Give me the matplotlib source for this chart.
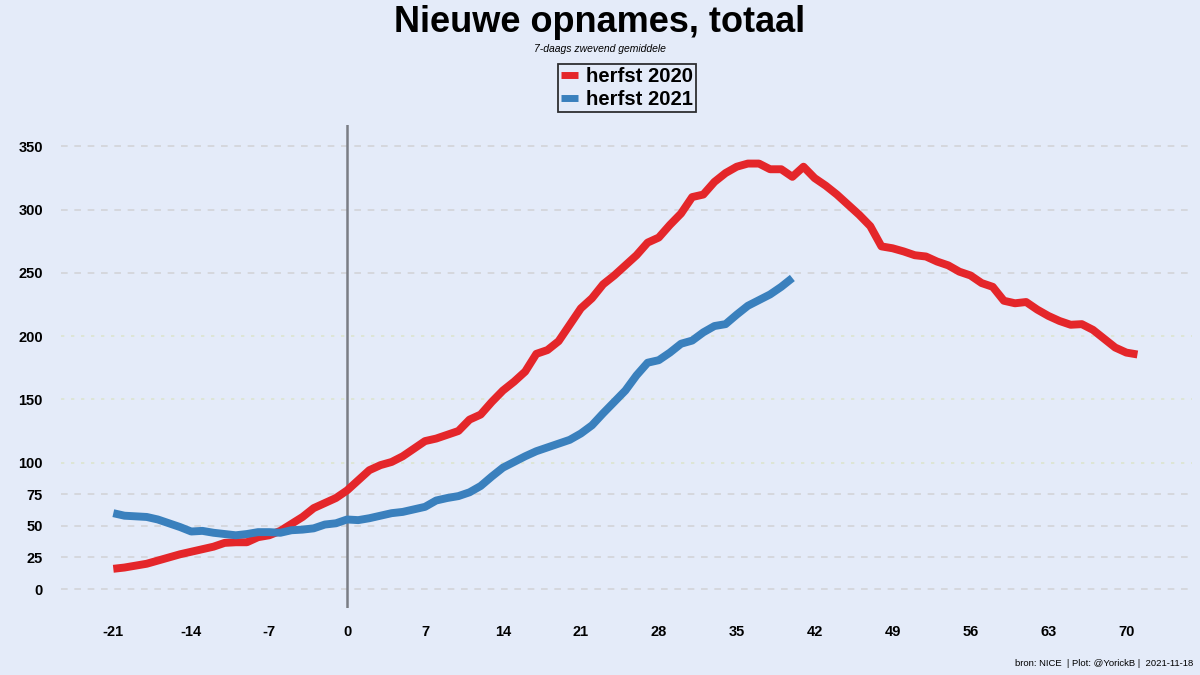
import matplotlib
matplotlib.use("Agg")
import matplotlib.pyplot as plt
import numpy as np

plt.rcParams['font.family'] = ['Liberation Sans', 'DejaVu Sans']

# Data
days_2020 = list(range(-21, 72))
herfst_2020 = [16, 17, 18.5, 20, 22.5, 25, 27.5, 29.5, 31.5, 33.5,
               36.5, 37, 37, 41, 42.5, 46, 51.5, 57, 64, 68,
               72, 78, 86, 94, 98, 100.5, 105, 111, 117, 119,
               122, 125, 134, 138, 148, 157, 164, 172, 186, 189,
               196, 209, 222, 230, 241, 248, 256, 264, 274, 278,
               288, 297, 310, 312, 322, 329, 334, 336.5, 336.5, 332,
               332, 326, 334, 325, 319, 312, 304, 296, 287, 271,
               269.5, 267, 264, 263, 259, 256, 251, 248, 242, 239,
               228, 226, 227, 221, 216, 212, 209, 209.5, 205, 198,
               191, 187, 185.5]
days_2021 = list(range(-21, 41))
herfst_2021 = [60, 58, 57.5, 57, 55, 52, 49, 45.5, 46, 44.5,
               43.5, 42.5, 43.5, 45, 45, 44.5, 46.5, 47, 48, 51,
               52, 55, 54.5, 56, 58, 60, 61, 63, 65, 70,
               72, 73.5, 76.5, 81.5, 89, 96, 100.5, 105, 109, 112,
               115, 118, 123, 129.5, 139, 148, 157, 169, 179, 181,
               187, 194, 196.5, 203, 208, 209.5, 217, 224, 228.5, 233,
               239, 246]
xticks = [-21, -14, -7, 0, 7, 14, 21, 28, 35, 42, 49, 56, 63, 70]
yticks = [0, 25, 50, 75, 100, 150, 200, 250, 300, 350]
dotted_grid = [100, 150, 200]

BG = '#E4EBF9'
RED = '#E4262A'
BLUE = '#3A80BD'

fig = plt.figure(figsize=(12, 6.75), dpi=100, facecolor=BG)
ax = fig.add_axes([61/1200, 1-608/675, (1192-61)/1200, (608-125)/675])
ax.set_facecolor(BG)
for s in ax.spines.values():
    s.set_visible(False)

ax.set_xlim(-25.7, 75.9)
ax.set_ylim(-15, 367)

for y in yticks:
    if y in dotted_grid:
        ax.axhline(y, color='#DCE4CF', lw=1.2, ls=(0, (2, 4)), zorder=0)
    else:
        ax.axhline(y, color='#D2D4D8', lw=1.2, ls=(0, (4, 4)), zorder=0)

ax.axvline(0, color='#7A7D85', lw=1.8, zorder=1)

l1, = ax.plot(days_2020, herfst_2020, color=RED, lw=5.7, solid_capstyle='butt',
              solid_joinstyle='round', label='herfst 2020', zorder=3)
l2, = ax.plot(days_2021, herfst_2021, color=BLUE, lw=5.7, solid_capstyle='butt',
              solid_joinstyle='round', label='herfst 2021', zorder=3)

ax.set_xticks(xticks)
ax.set_xticklabels([str(v) for v in xticks])
ax.set_yticks(yticks)
ax.set_yticklabels([str(v) for v in yticks])
ax.tick_params(axis='both', length=0, labelsize=10.5, colors='black')
ax.tick_params(axis='x', pad=12)
ax.tick_params(axis='y', pad=13)
for lab in ax.get_xticklabels() + ax.get_yticklabels():
    lab.set_fontweight('bold')

fig.text(0.5, 1-32.5/675, 'Nieuwe opnames, totaal', ha='center', va='baseline',
         fontsize=26, fontweight='bold')
fig.text(0.5, 1-49/675, '7-daags zwevend gemiddele', ha='center', va='center',
         fontsize=7.5, style='italic')

leg = fig.legend(handles=[l1, l2], loc='center', bbox_to_anchor=(627/1200, 1-88/675),
                 frameon=True, fancybox=False, edgecolor='black', facecolor=BG,
                 prop={'weight': 'bold', 'size': 14.6}, handlelength=0.8,
                 handletextpad=0.4, borderpad=0.15, labelspacing=0.2,
                 borderaxespad=0)
leg.get_frame().set_linewidth(1.3)
for h in leg.get_lines():
    h.set_linewidth(5)

fig.text(1193/1200, 1-663/675, 'bron: NICE  | Plot: @YorickB |  2021-11-18',
         ha='right', va='center', fontsize=6.8)

fig.savefig('out.png', dpi=100, facecolor=BG)
